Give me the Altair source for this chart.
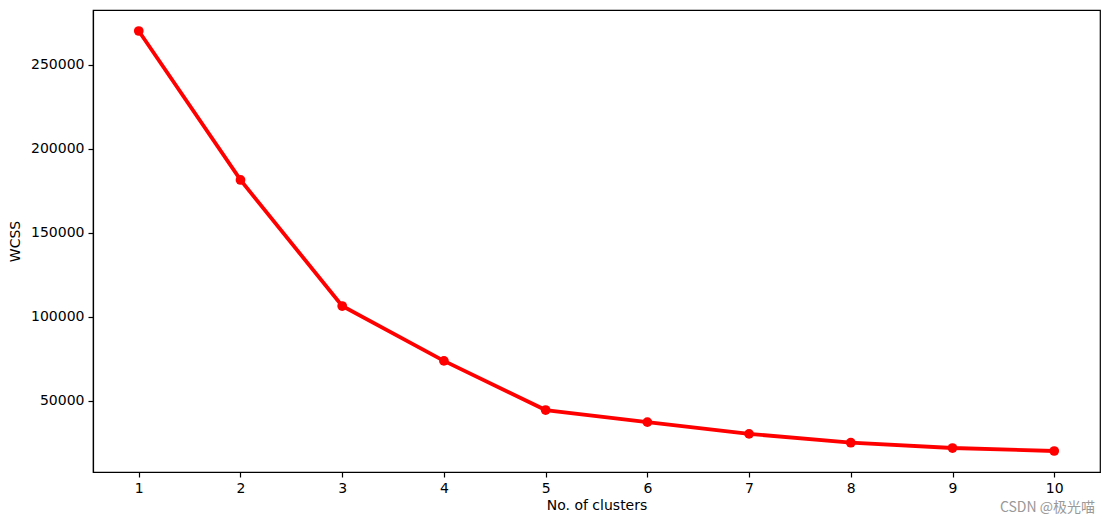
import altair as alt
import pandas as pd

clusters = [1, 2, 3, 4, 5, 6, 7, 8, 9, 10]
wcss = [269981, 181363, 106348, 73679, 44448, 37233, 30259, 25011, 21850, 20072]
y_ticks = [50000, 100000, 150000, 200000, 250000]

df = pd.DataFrame({"k": clusters, "wcss": wcss})

FONT = "DejaVu Sans"
ax_common = dict(
    grid=False, format="d",
    labelFont=FONT, titleFont=FONT, labelFontSize=14, titleFontSize=14,
    labelColor="black", titleColor="black", titleFontWeight="normal",
    domainColor="black", tickColor="black", tickSize=5, labelPadding=4,
    domainWidth=1.2, tickWidth=1.2,
)

x = alt.X("k:Q", title="No. of clusters",
          scale=alt.Scale(domain=[0.55, 10.45], nice=False, zero=False),
          axis=alt.Axis(values=clusters, titlePadding=3, **ax_common))
y = alt.Y("wcss:Q", title="WCSS",
          scale=alt.Scale(domain=[7577, 282476], nice=False, zero=False),
          axis=alt.Axis(values=y_ticks, titlePadding=8, **ax_common))

line = alt.Chart(df).mark_line(color="#ff0000", strokeWidth=3.8).encode(x=x, y=y)
pts = alt.Chart(df).mark_point(color="#ff0000", filled=True, opacity=1, size=95, shape="circle").encode(x=x, y=y)

wm = alt.Chart(pd.DataFrame({"t": ["CSDN @极光喵"]})).mark_text(
    align="right", baseline="middle", fontSize=14, color="#999999",
    font="Noto Sans CJK SC"
).encode(text="t:N", x=alt.value(1002), y=alt.value(498))

chart = alt.layer(line, pts, wm).properties(
    width=1007, height=462,
    autosize=alt.AutoSizeParams(type="none"),
    padding={"left": 85, "top": 2, "right": 2, "bottom": 44},
).configure_view(stroke="black", strokeWidth=1.2)

chart.save("out.html", embed_options={"renderer": "svg", "actions": False})
